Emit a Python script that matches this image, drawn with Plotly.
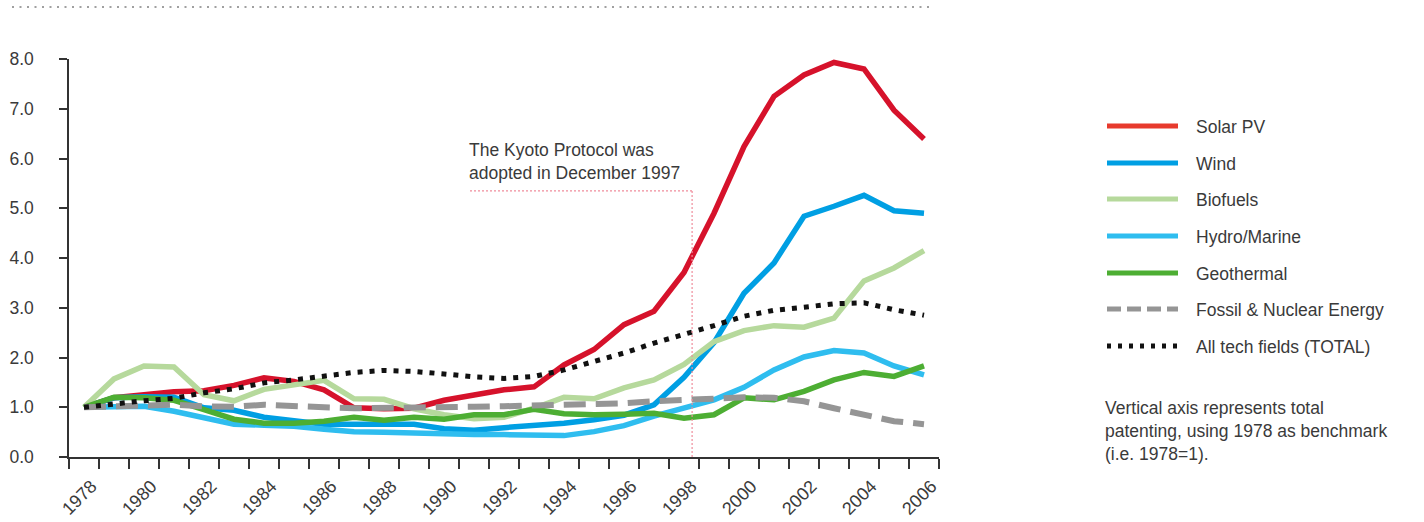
import plotly.graph_objects as go

# ---------------- data ----------------
years = list(range(1978, 2007))
label_years = list(range(1978, 2007, 2))

solar_pv = [1.00, 1.19, 1.25, 1.31, 1.33, 1.44, 1.59, 1.52, 1.35, 0.99, 0.97, 0.98, 1.14, 1.25, 1.35,
            1.41, 1.85, 2.16, 2.66, 2.93, 3.71, 4.90, 6.24, 7.25, 7.68, 7.93, 7.80, 6.97, 6.39]
wind = [1.00, 1.19, 1.21, 1.20, 0.99, 0.94, 0.80, 0.72, 0.66, 0.66, 0.67, 0.66, 0.57, 0.54, 0.59,
        0.63, 0.68, 0.75, 0.84, 1.05, 1.60, 2.30, 3.29, 3.90, 4.84, 5.04, 5.26, 4.95, 4.90]
biofuels = [1.00, 1.57, 1.83, 1.81, 1.25, 1.13, 1.36, 1.44, 1.54, 1.17, 1.16, 0.97, 0.85, 0.77, 0.80,
            0.98, 1.20, 1.17, 1.39, 1.55, 1.86, 2.32, 2.54, 2.64, 2.61, 2.79, 3.54, 3.80, 4.15]
hydro_marine = [1.00, 1.02, 1.02, 0.92, 0.78, 0.66, 0.64, 0.62, 0.56, 0.51, 0.50, 0.48, 0.46, 0.45, 0.45,
                0.45, 0.43, 0.51, 0.63, 0.82, 0.98, 1.15, 1.40, 1.75, 2.01, 2.14, 2.09, 1.83, 1.65]
geothermal = [1.00, 1.20, 1.19, 1.14, 0.95, 0.76, 0.68, 0.68, 0.72, 0.80, 0.74, 0.80, 0.76, 0.85, 0.85,
              0.96, 0.87, 0.85, 0.86, 0.88, 0.78, 0.85, 1.19, 1.15, 1.32, 1.55, 1.70, 1.62, 1.83]
fossil_nuclear = [1.00, 1.02, 1.04, 1.05, 1.02, 1.01, 1.05, 1.04, 1.00, 0.98, 0.98, 0.98, 1.00, 1.01, 1.02,
                  1.03, 1.05, 1.05, 1.08, 1.12, 1.15, 1.17, 1.20, 1.19, 1.12, 0.98, 0.85, 0.72, 0.66]
total_all = [1.00, 1.07, 1.13, 1.18, 1.29, 1.37, 1.49, 1.55, 1.63, 1.70, 1.74, 1.72, 1.67, 1.61, 1.58,
             1.62, 1.75, 1.92, 2.09, 2.29, 2.46, 2.64, 2.83, 2.95, 3.01, 3.08, 3.10, 2.96, 2.85]

series_names = ["Solar PV", "Wind", "Biofuels", "Hydro/Marine", "Geothermal",
                "Fossil & Nuclear Energy", "All tech fields (TOTAL)"]
series_values = [solar_pv, wind, biofuels, hydro_marine, geothermal, fossil_nuclear, total_all]

y_ticks = [0, 1, 2, 3, 4, 5, 6, 7, 8]
kyoto_year = 1998.27
kyoto_level = 5.35
kyoto_text = "The Kyoto Protocol was<br>adopted in December 1997"
note_text = "Vertical axis represents total<br>patenting, using 1978 as benchmark<br>(i.e. 1978=1)."

# ---------------- styles ----------------
colors = ["#D6122B", "#009FE3", "#B6D99C", "#2FBDEF", "#4DAE33", "#959595", "#111111"]
legend_colors = ["#E73A2D", "#009FE3", "#B6D99C", "#2FBDEF", "#4DAE33", "#959595", "#111111"]
widths = [5.5, 5.5, 5.5, 5.5, 5.5, 6, 5]
dashes = ["solid", "solid", "solid", "solid", "solid", "22px,10px", "5px,7px"]
legend_dashes = ["solid", "solid", "solid", "solid", "solid", "14px,6px", "4px,7px"]

W, H = 1424, 522
ML, MR, MT, MB = 69, 485, 59, 65
PW, PH = W - ML - MR, H - MT - MB
TXT = "#3a3a3a"
FONT = "Liberation Sans, Arial, sans-serif"


def px_x(px):
    return (px - ML) / PW


def px_y(py):
    return (H - MB - py) / PH


fig = go.Figure()
for name, vals, c, w, d in zip(series_names, series_values, colors, widths, dashes):
    fig.add_trace(go.Scatter(x=years, y=vals, name=name, mode="lines",
                             line=dict(color=c, width=w, dash=d),
                             showlegend=False, hoverinfo="x+y+name"))

shapes = []
annotations = []

# top dotted rule
shapes.append(dict(type="line", xref="paper", yref="paper",
                   x0=px_x(12), x1=px_x(932), y0=px_y(7), y1=px_y(7),
                   line=dict(color="#a0a0a0", width=2, dash="2px,5.5px")))

# Kyoto marker
kyoto_line = dict(color="#F08C9B", width=1.2, dash="2px,2px")
shapes.append(dict(type="line", xref="x", yref="y", x0=kyoto_year, x1=kyoto_year,
                   y0=0, y1=kyoto_level, line=kyoto_line))
shapes.append(dict(type="line", xref="x", yref="y", x0=1978 + (470 - 84) / 30, x1=kyoto_year,
                   y0=kyoto_level, y1=kyoto_level, line=kyoto_line))
annotations.append(dict(xref="paper", yref="paper", x=px_x(467), y=px_y(161),
                        xanchor="left", yanchor="middle", align="left", showarrow=False,
                        text=kyoto_text, font=dict(family=FONT, size=17.5, color=TXT)))

# legend (manual, to match long line samples)
legend_y = [126, 163, 199, 236, 273, 309, 346]
for name, c, d, py in zip(series_names, legend_colors, legend_dashes, legend_y):
    shapes.append(dict(type="line", xref="paper", yref="paper",
                       x0=px_x(1107), x1=px_x(1178), y0=px_y(py), y1=px_y(py),
                       line=dict(color=c, width=5, dash=d)))
    annotations.append(dict(xref="paper", yref="paper", x=px_x(1194), y=px_y(py + 1),
                            xanchor="left", yanchor="middle", showarrow=False, text=name,
                            font=dict(family=FONT, size=17.5, color=TXT)))

# note
annotations.append(dict(xref="paper", yref="paper", x=px_x(1103), y=px_y(431),
                        xanchor="left", yanchor="middle", align="left", showarrow=False,
                        text=note_text, font=dict(family=FONT, size=17.5, color=TXT)))

fig.update_layout(
    width=W, height=H,
    margin=dict(l=ML, r=MR, t=MT, b=MB, pad=0),
    paper_bgcolor="white", plot_bgcolor="white",
    showlegend=False,
    font=dict(family=FONT, size=17.5, color=TXT),
    shapes=shapes, annotations=annotations,
    xaxis=dict(range=[1977.5, 2006.5], showgrid=False, zeroline=False, automargin=False,
               showline=True, linecolor="#333333", linewidth=1.5,
               tickmode="array", tickvals=[y + 0.25 for y in label_years],
               ticktext=[str(y) for y in label_years], tickangle=-45,
               ticks="outside", ticklen=10, tickcolor="rgba(0,0,0,0)",
               tickfont=dict(family=FONT, size=18, color=TXT),
               minor=dict(ticks="outside", ticklen=10, tickwidth=1.5, tickcolor="#333333",
                          tick0=1977.5, dtick=1, showgrid=False)),
    yaxis=dict(range=[0, 8], showgrid=False, zeroline=False, automargin=False,
               showline=True, linecolor="#333333", linewidth=1.5,
               tickmode="array", tickvals=y_ticks, ticktext=[f"{v:.1f}" for v in y_ticks],
               ticks="outside", ticklen=8, tickwidth=1.5, tickcolor="#333333",
               ticklabelstandoff=22,
               tickfont=dict(family=FONT, size=17.5, color=TXT)),
)

fig.write_html("out.html", config={"displayModeBar": False},
               post_script="document.body.style.margin='0';document.body.style.overflow='hidden';")
